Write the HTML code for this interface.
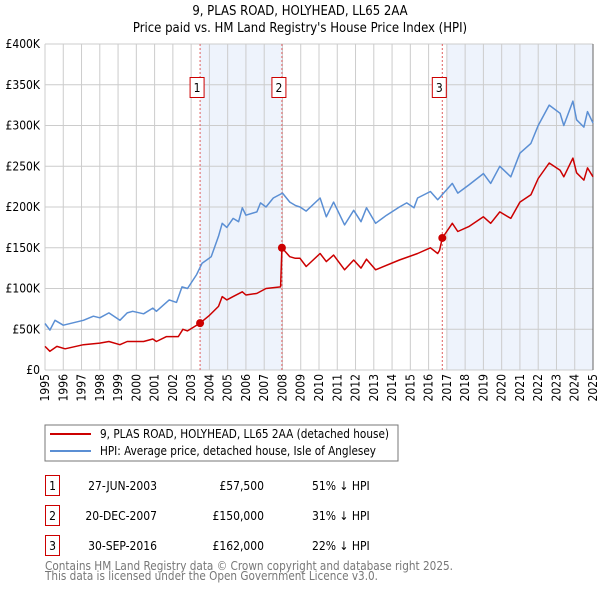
<!DOCTYPE html>
<html><head><meta charset="utf-8"><style>
body{margin:0;background:#fff;width:600px;height:590px;overflow:hidden;position:relative;font-family:"DejaVu Sans Condensed","Liberation Sans",sans-serif}
svg text{font-family:"DejaVu Sans Condensed","Liberation Sans",sans-serif}
.xt{position:absolute;font-size:12px;line-height:12px;white-space:nowrap;color:#000;writing-mode:vertical-rl;writing-mode:sideways-lr}
</style></head><body>
<svg id="c" width="600" height="590" xmlns="http://www.w3.org/2000/svg" style="position:absolute;left:0;top:0">
<text x="300" y="15" text-anchor="middle" font-size="13">9, PLAS ROAD, HOLYHEAD, LL65 2AA</text>
<text x="300" y="32" text-anchor="middle" font-size="13">Price paid vs. HM Land Registry's House Price Index (HPI)</text>
<g id="plot"></g>
<rect x="45" y="425" width="353" height="36" fill="none" stroke="#777"/>
<line x1="50" y1="434" x2="91" y2="434" stroke="#cc0000" stroke-width="2"/>
<text x="100" y="438" font-size="12" textLength="289" lengthAdjust="spacingAndGlyphs">9, PLAS ROAD, HOLYHEAD, LL65 2AA (detached house)</text>
<line x1="50" y1="451" x2="91" y2="451" stroke="#5b8fd4" stroke-width="2"/>
<text x="100" y="455" font-size="12" textLength="276" lengthAdjust="spacingAndGlyphs">HPI: Average price, detached house, Isle of Anglesey</text>
<g font-size="12">
<rect x="45.5" y="475.5" width="14" height="20" fill="none" stroke="#c00"/><text x="52.5" y="490" text-anchor="middle">1</text>
<text x="157" y="490" text-anchor="end">27-JUN-2003</text><text x="264" y="490" text-anchor="end">£57,500</text><text x="312" y="490">51% ↓ HPI</text>
<rect x="45.5" y="505.5" width="14" height="20" fill="none" stroke="#c00"/><text x="52.5" y="520" text-anchor="middle">2</text>
<text x="157" y="520" text-anchor="end">20-DEC-2007</text><text x="264" y="520" text-anchor="end">£150,000</text><text x="312" y="520">31% ↓ HPI</text>
<rect x="45.5" y="535.5" width="14" height="20" fill="none" stroke="#c00"/><text x="52.5" y="550" text-anchor="middle">3</text>
<text x="157" y="550" text-anchor="end">30-SEP-2016</text><text x="264" y="550" text-anchor="end">£162,000</text><text x="312" y="550">22% ↓ HPI</text>
</g>
<text x="45" y="570" font-size="12" fill="#777" textLength="408" lengthAdjust="spacingAndGlyphs">Contains HM Land Registry data © Crown copyright and database right 2025.</text>
<text x="45" y="580" font-size="12" fill="#777" textLength="333" lengthAdjust="spacingAndGlyphs">This data is licensed under the Open Government Licence v3.0.</text>
</svg>
<script>
const hpiYears=[1995.0,1995.27,1995.55,1996.0,1997.1,1997.65,1998.0,1998.5,1999.1,1999.5,1999.8,2000.4,2000.9,2001.1,2001.5,2001.8,2002.2,2002.5,2002.8,2003.3,2003.6,2003.85,2004.1,2004.5,2004.7,2004.95,2005.3,2005.6,2005.8,2006.0,2006.6,2006.8,2007.1,2007.5,2008.0,2008.4,2008.7,2008.96,2009.3,2010.06,2010.4,2010.8,2011.4,2011.9,2012.3,2012.6,2013.1,2013.7,2014.4,2014.8,2015.2,2015.4,2016.1,2016.5,2017.3,2017.6,2018.2,2019.0,2019.4,2019.9,2020.5,2021.0,2021.6,2022.0,2022.6,2023.2,2023.4,2023.9,2024.1,2024.5,2024.7,2025.0];
const hpiValues=[57,49,61,55,61,66,64,70,61,70,72,69,76,72,80,86,83,102,100,117,131,135,139,164,180,175,186,182,199,190,194,205,200,211,217,206,202,200,195,211,188,206,178,196,182,199,180,190,200,205,199,211,219,209,229,217,227,241,229,250,237,266,278,300,325,315,300,330,307,298,317,303];
const propYears=[1995.0,1995.27,1995.65,1996.1,1997.1,1998.0,1998.5,1999.1,1999.5,2000.4,2000.9,2001.1,2001.65,2002.3,2002.55,2002.8,2003.49,2004.0,2004.5,2004.7,2004.95,2005.3,2005.8,2006.0,2006.6,2007.1,2007.9,2007.97,2008.4,2008.7,2008.96,2009.3,2010.06,2010.4,2010.8,2011.4,2011.9,2012.3,2012.6,2013.1,2014.4,2015.4,2016.1,2016.5,2016.6,2016.75,2017.3,2017.6,2018.2,2019.0,2019.4,2019.9,2020.5,2021.0,2021.6,2022.0,2022.6,2023.2,2023.4,2023.9,2024.1,2024.5,2024.7,2025.0];
const propValues=[29,23,29,26,31,33,35,31,35,35,38,35,41,41,50,48,57.5,67,78,90,86,90,96,92,94,100,102,150,139,137,137,127,143,133,141,123,135,125,136,123,135,143,150,143,147,162,180,170,176,188,180,194,186,206,215,235,254,245,237,260,242,233,248,237];
const saleYears=[2003.49,2007.97,2016.75];
const saleValues=[57.5,150,162];
const saleLabels=["1","2","3"];
const yTicks=[0,50,100,150,200,250,300,350,400];
const yTickLabels=["£0","£50K","£100K","£150K","£200K","£250K","£300K","£350K","£400K"];
const xTicks=[1995,1996,1997,1998,1999,2000,2001,2002,2003,2004,2005,2006,2007,2008,2009,2010,2011,2012,2013,2014,2015,2016,2017,2018,2019,2020,2021,2022,2023,2024,2025];

const X0=45,X1=593,Y0=370,Y1=44;
const xs=y=>X0+(y-1995)/30*(X1-X0);
const ys=v=>Y0-v/400*(Y0-Y1);
const NS="http://www.w3.org/2000/svg";
const g=document.getElementById('plot');
function mk(t,a){const e=document.createElementNS(NS,t);for(const k in a)e.setAttribute(k,a[k]);g.appendChild(e);return e;}
let e;
e=mk('rect',{x:xs(saleYears[0]),y:Y1,width:xs(saleYears[1])-xs(saleYears[0]),height:Y0-Y1,fill:'#eef3fc'});


e=mk('rect',{x:xs(2017),y:Y1,width:X1-xs(2017),height:Y0-Y1,fill:'#eef3fc'});


yTicks.forEach((t,i)=>{
 e=mk('line',{x1:X0,x2:X1,y1:ys(t),y2:ys(t),stroke:'#ccc'});
 
 
 e=mk('text',{x:40,y:ys(t)+4,'text-anchor':'end','font-size':12});
 e.textContent=yTickLabels[i];
 
 
});
xTicks.forEach(t=>{
 e=mk('line',{x1:xs(t),x2:xs(t),y1:Y1,y2:Y0,stroke:'#ccc'});
 
 
 const d=document.createElement('div');
 d.className='xt';
 d.style.left=(xs(t)-6)+'px';
 d.style.top=(Y0+4)+'px';
 d.textContent=t;
 
 
 document.body.appendChild(d);
});
e=mk('line',{x1:X1,x2:X1,y1:Y1,y2:Y0,stroke:'#666'});


saleYears.forEach((s,i)=>{
 e=mk('line',{x1:xs(s),x2:xs(s),y1:Y1,y2:Y0,stroke:'#e06060','stroke-dasharray':'2,2'});
 
 
});
function path(xa,va,col,name){
 const d=xa.map((x,i)=>(i?'L':'M')+xs(x).toFixed(1)+','+ys(va[i]).toFixed(1)).join('');
 e=mk('path',{d,fill:'none',stroke:col,'stroke-width':1.5,'stroke-linejoin':'round'});
 
 
}
path(hpiYears,hpiValues,'#5b8fd4','hpi-line');
path(propYears,propValues,'#cc0000','property-line');
saleYears.forEach((s,i)=>{
 e=mk('circle',{cx:xs(s),cy:ys(saleValues[i]),r:4,fill:'#cc0000'});
 
 
 e=mk('rect',{x:xs(s)-10,y:77.5,width:14,height:20,fill:'#fff',stroke:'#c00'});
 
 
 e=mk('text',{x:xs(s)-3,y:92,'text-anchor':'middle','font-size':12});
 e.textContent=saleLabels[i];
 
 
});
</script>
</body></html>
